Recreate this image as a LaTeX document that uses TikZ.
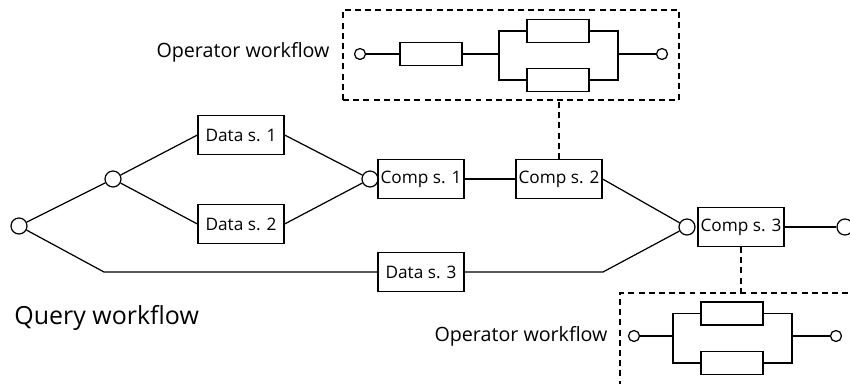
\documentclass[tikz,border=0pt]{standalone}
\usepackage{fontspec}
\setmainfont{Open Sans}
\usepackage{tikz}

\begin{document}
\begin{tikzpicture}[x=0.02cm,y=-0.02cm,line width=0.7pt,
  box/.style={draw,rectangle,minimum width=1.72cm,minimum height=0.78cm,inner sep=1pt,font=\fontsize{9.8}{12}\selectfont},
  opunit/.style={draw,rectangle,minimum width=1.24cm,minimum height=0.46cm,inner sep=0pt},
  port/.style={draw,circle,minimum size=0.32cm,inner sep=0pt},
  opport/.style={draw,circle,minimum size=0.22cm,inner sep=0pt},
  opline/.style={dash pattern=on 3.4pt off 2.4pt},
  opframe/.style={draw,opline,rectangle,inner sep=0pt},
  title/.style={font=\fontsize{11.2}{14}\selectfont}]
\useasboundingbox (0,0) rectangle (850,383);
\clip (0,0) rectangle (850,383);
% query workflow
\node[port] (qin) at (19,226) {};
\node[port] (split) at (113,179) {};
\node[port] (join1) at (370,179) {};
\node[port] (join2) at (687,227) {};
\node[port] (qout) at (845,227) {};
\node[box] (d1) at (241,135) {Data s. 1};
\node[box] (d2) at (241,224) {Data s. 2};
\node[box] (d3) at (421,272) {Data s. 3};
\node[box] (c1) at (421,179) {Comp s. 1};
\node[box] (c2) at (559,179) {Comp s. 2};
\node[box] (c3) at (741,227) {Comp s. 3};
\coordinate (bend1) at (104,272);
\coordinate (bend2) at (603,272);
\draw (qin) -- (split);
\draw (split) -- (d1.west);
\draw (split) -- (d2.west);
\draw (d1.east) -- (join1);
\draw (d2.east) -- (join1);
\draw (c1) -- (c2);
\draw (c2.east) -- (join2);
\draw (qin) -- (bend1) -- (d3);
\draw (d3) -- (bend2) -- (join2);
\draw (c3) -- (qout);
\node[anchor=west,font=\fontsize{14.2}{17}\selectfont] (qlabel) at (8,318) {Query workflow};
% operator workflow of Comp s. 2
\node[opframe,minimum width=6.72cm,minimum height=1.8cm] (opA) at (511,55) {};
\node[title,anchor=east] (opAlabel) at (336,52) {Operator workflow};
\node[opport] (opAin) at (360,54) {};
\node[opunit] (opA1) at (431,54) {};
\node[opunit] (opA2) at (558,31) {};
\node[opunit] (opA3) at (558,80) {};
\node[opport] (opAout) at (662,54) {};
\coordinate (opAl) at (499,54);
\coordinate (opAr) at (618,54);
\draw (opAin) -- (opA1) -- (opAl);
\draw (opA2.west) -| (opAl) |- (opA3.west);
\draw (opA2.east) -| (opAr) |- (opA3.east);
\draw (opAr) -- (opAout);
\draw[opline] (c2.north) -- (c2.north |- opA.south);
% operator workflow of Comp s. 3
\node[opframe,minimum width=5.6cm,minimum height=2.54cm] (opB) at (760,356.5) {};
\node[title,anchor=east] (opBlabel) at (614,336) {Operator workflow};
\node[opport] (opBin) at (634,336) {};
\node[opunit] (opB1) at (732,313.5) {};
\node[opunit] (opB2) at (732,363) {};
\node[opport] (opBout) at (836,336) {};
\coordinate (opBl) at (673,336);
\coordinate (opBr) at (792,336);
\draw (opBin) -- (opBl);
\draw (opB1.west) -| (opBl) |- (opB2.west);
\draw (opB1.east) -| (opBr) |- (opB2.east);
\draw (opBr) -- (opBout);
\draw[opline] (c3.south) -- (c3.south |- opB.north);
\end{tikzpicture}
\end{document}
